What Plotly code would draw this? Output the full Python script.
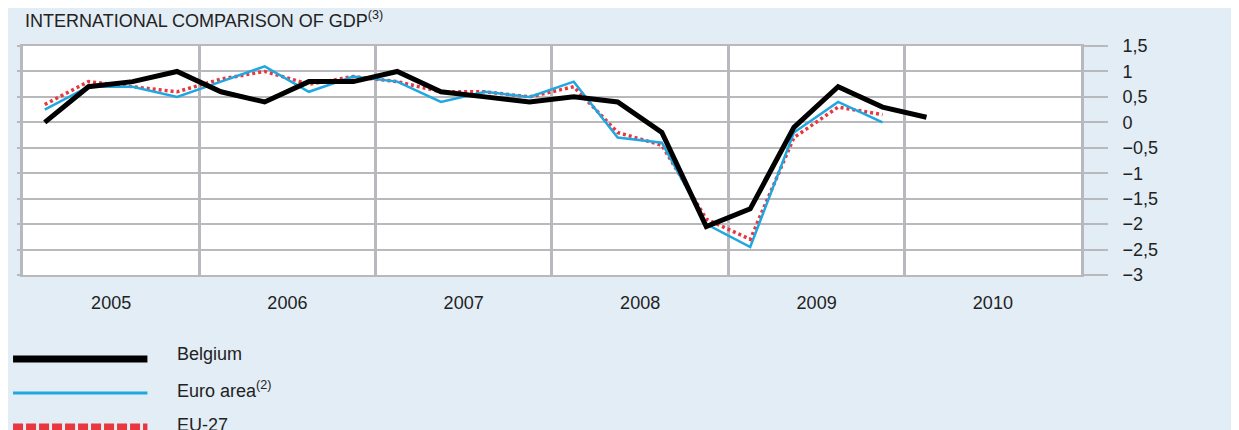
import plotly.graph_objects as go
import pandas as pd

# ---------------- data ----------------
quarters = ["2005Q1", "2005Q2", "2005Q3", "2005Q4",
            "2006Q1", "2006Q2", "2006Q3", "2006Q4",
            "2007Q1", "2007Q2", "2007Q3", "2007Q4",
            "2008Q1", "2008Q2", "2008Q3", "2008Q4",
            "2009Q1", "2009Q2", "2009Q3", "2009Q4",
            "2010Q1"]

belgium = [0.0, 0.7, 0.8, 1.0,
           0.6, 0.4, 0.8, 0.8,
           1.0, 0.6, 0.5, 0.4,
           0.5, 0.4, -0.2, -2.05,
           -1.7, -0.1, 0.7, 0.3,
           0.1]

euro_area = [0.25, 0.7, 0.7, 0.5,
             0.8, 1.1, 0.6, 0.9,
             0.8, 0.4, 0.6, 0.5,
             0.8, -0.3, -0.4, -2.0,
             -2.45, -0.2, 0.4, 0.0]

eu27 = [0.35, 0.8, 0.7, 0.6,
        0.85, 1.0, 0.75, 0.9,
        0.8, 0.6, 0.6, 0.5,
        0.7, -0.2, -0.45, -1.9,
        -2.3, -0.3, 0.3, 0.15]

years = ["2005", "2006", "2007", "2008", "2009", "2010"]

y_tickvals = [1.5, 1, 0.5, 0, -0.5, -1, -1.5, -2, -2.5, -3]
y_ticktext = ["1,5", "1", "0,5", "0", "\u22120,5", "\u22121", "\u22121,5", "\u22122", "\u22122,5", "\u22123"]

title_text = "INTERNATIONAL COMPARISON OF GDP<sup>(3)</sup>"
legend_names = ["Belgium", "Euro area<sup>(2)</sup>", "EU-27"]


def quarter_mid(q):
    p = pd.Period(q, freq="Q")
    return p.start_time + (p.end_time - p.start_time) / 2


def year_mid(y):
    p = pd.Period(y, freq="Y")
    return p.start_time + (p.end_time - p.start_time) / 2


x_all = [quarter_mid(q) for q in quarters]
year_centers = [year_mid(y) for y in years]
year_bounds = [pd.Period(y, freq="Y").start_time for y in years] + \
              [pd.Period(years[-1], freq="Y").end_time.normalize() + pd.Timedelta(days=1)]

# ---------------- style ----------------
BG = "#e2edf5"
GRID = "#b9b9bd"
BLACK = "#000000"
BLUE = "#1fa7e0"
RED = "#e8373f"
TXT = "#222222"
FONT = "Liberation Sans, Arial, sans-serif"

# page offset of the figure (browser body margin)
OX, OY = 8, 8
WIDTH, HEIGHT = 1250, 422
L, T = 10, 38
PW, PH = 1063, 229
R = WIDTH - L - PW
B = HEIGHT - T - PH


def px_x(x):
    """screen pixel x -> paper x"""
    return (x - OX - L) / PW


def px_y(y):
    """screen pixel y -> paper y"""
    return (OY + T + PH - y) / PH


fig = go.Figure()

fig.add_trace(go.Scatter(
    x=x_all[:len(eu27)], y=eu27, mode="lines", name="EU-27",
    line=dict(color=RED, width=3.5, dash="3px,3px"), showlegend=False))
fig.add_trace(go.Scatter(
    x=x_all[:len(euro_area)], y=euro_area, mode="lines", name="Euro area",
    line=dict(color=BLUE, width=2.5), showlegend=False))
fig.add_trace(go.Scatter(
    x=x_all[:len(belgium)], y=belgium, mode="lines", name="Belgium",
    line=dict(color=BLACK, width=5), showlegend=False))

# helper so the short left tick axis is drawn
fig.add_trace(go.Scatter(x=[x_all[0]], y=[None], yaxis="y2", mode="lines",
                         showlegend=False, hoverinfo="skip"))

fig.update_layout(
    width=WIDTH, height=HEIGHT,
    margin=dict(l=L, r=R, t=T, b=B, pad=0),
    paper_bgcolor=BG, plot_bgcolor="#ffffff",
    font=dict(family=FONT, color=TXT, size=18),
    showlegend=False,
    xaxis=dict(
        type="date",
        range=[year_bounds[0], year_bounds[-1]],
        tickmode="array", tickvals=year_centers, ticktext=years,
        ticks="", ticklabelstandoff=11,
        tickfont=dict(size=18, color=TXT),
        showgrid=False,
        minor=dict(tickmode="array", tickvals=year_bounds, ticks="",
                   showgrid=True, gridcolor=GRID, gridwidth=3),
        showline=True, mirror=True, linecolor=GRID, linewidth=1.5,
        zeroline=False, fixedrange=True,
    ),
    yaxis=dict(
        side="right",
        range=[-3, 1.5],
        tickmode="array", tickvals=y_tickvals, ticktext=y_ticktext,
        ticks="outside", ticklen=24, tickwidth=1.5, tickcolor=GRID,
        ticklabelstandoff=11,
        tickfont=dict(size=18, color=TXT),
        showgrid=True, gridcolor=GRID, gridwidth=1.5,
        showline=True, mirror=True, linecolor=GRID, linewidth=3,
        zeroline=False, fixedrange=True,
    ),
    yaxis2=dict(
        overlaying="y", side="left", anchor="x",
        range=[-3, 1.5],
        tickmode="array", tickvals=y_tickvals,
        showticklabels=False,
        ticks="outside", ticklen=5, tickwidth=1.5, tickcolor=GRID,
        showgrid=False, showline=False, zeroline=False, fixedrange=True,
    ),
)

shapes = []
annotations = []

# custom legend (long line samples as in the original)
legend_styles = [
    dict(color=BLACK, width=7, dash="solid", y=359, ty=354),
    dict(color=BLUE, width=3, dash="solid", y=393, ty=389),
    dict(color=RED, width=9, dash="10px,3px", y=428, ty=425),
]
for name, st in zip(legend_names, legend_styles):
    shapes.append(dict(type="line", xref="paper", yref="paper",
                       x0=px_x(8), x1=px_x(143), y0=px_y(st["y"]), y1=px_y(st["y"]),
                       line=dict(color=st["color"], width=st["width"], dash=st["dash"])))
    annotations.append(dict(xref="paper", yref="paper", x=px_x(171), y=px_y(st["ty"]),
                            xanchor="left", yanchor="middle", showarrow=False,
                            text=name, font=dict(family=FONT, size=18, color=TXT)))

annotations.append(dict(xref="paper", yref="paper", x=px_x(18), y=px_y(19),
                        xanchor="left", yanchor="middle", showarrow=False,
                        text=title_text, font=dict(family=FONT, size=18, color=TXT)))

fig.update_layout(shapes=shapes, annotations=annotations)

fig.write_html("out.html")
